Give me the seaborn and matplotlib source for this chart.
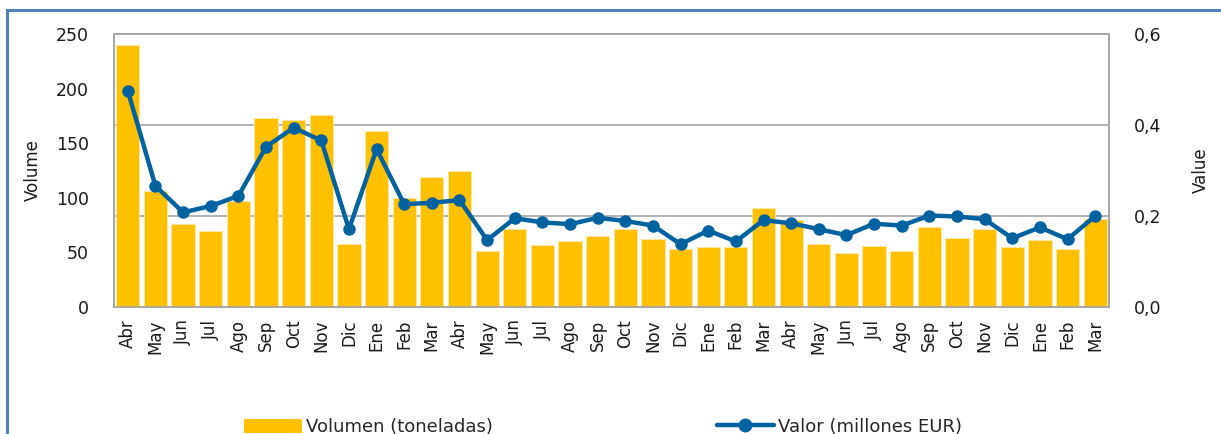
import numpy as np
import pandas as pd
import matplotlib
matplotlib.use("Agg")
import matplotlib.pyplot as plt
from matplotlib.patches import Rectangle, Patch
from matplotlib.lines import Line2D
from matplotlib.ticker import FuncFormatter
import seaborn as sns

# Monthly series, April to March over three years
months = ["Abr", "May", "Jun", "Jul", "Ago", "Sep", "Oct", "Nov", "Dic", "Ene", "Feb", "Mar",
          "Abr", "May", "Jun", "Jul", "Ago", "Sep", "Oct", "Nov", "Dic", "Ene", "Feb", "Mar",
          "Abr", "May", "Jun", "Jul", "Ago", "Sep", "Oct", "Nov", "Dic", "Ene", "Feb", "Mar"]

volume_t = [240, 106, 76, 70, 97, 173, 171, 176, 58, 161, 100, 119,
            125, 51, 71, 57, 60, 65, 71, 62, 53, 55, 55, 91,
            80, 58, 49, 56, 51, 73, 63, 71, 55, 61, 53, 81]

value_meur = [0.475, 0.266, 0.208, 0.222, 0.244, 0.352, 0.394, 0.366, 0.171, 0.347, 0.226, 0.229,
              0.235, 0.147, 0.195, 0.186, 0.182, 0.196, 0.189, 0.179, 0.138, 0.168, 0.144, 0.191,
              0.184, 0.171, 0.158, 0.183, 0.179, 0.201, 0.199, 0.193, 0.151, 0.175, 0.149, 0.200]

vol_ticks = [0, 50, 100, 150, 200, 250]
val_ticks = [0.0, 0.2, 0.4, 0.6]

legend_labels = ["Volumen (toneladas)", "Valor (millones EUR)"]

BAR_COLOR = "#FFC000"
LINE_COLOR = "#0063A0"
GRID_COLOR = "#A6A6A6"
FRAME_COLOR = "#4F81BD"

sns.set_theme(style="white")
plt.rcParams["font.family"] = ["DejaVu Sans"]

df = pd.DataFrame({"period": np.arange(len(months)), "month": months,
                   "volume": volume_t, "value": value_meur})

fig = plt.figure(figsize=(12.21, 4.34), dpi=100)
fig.patch.set_facecolor("white")

ax = fig.add_axes([114 / 1221, 1 - 307 / 434, 995 / 1221, 273 / 434])
ax.set_axisbelow(True)

sns.barplot(data=df, x="period", y="volume", ax=ax, color=BAR_COLOR,
            saturation=1, width=0.84, edgecolor="#FFE9A8", linewidth=0.6)
for bar in ax.patches:
    bar.set_zorder(3)

# Horizontal guides at the value-axis ticks, drawn behind the bars
vmax = val_ticks[-1]
for v in val_ticks[1:-1]:
    ax.axhline(v / vmax * vol_ticks[-1], color=GRID_COLOR, lw=1.2, zorder=1)

ax.set_ylim(vol_ticks[0], vol_ticks[-1])
ax.set_yticks(vol_ticks)
ax.set_xticks(df["period"])
ax.set_xticklabels(months, rotation=90, fontsize=12, color="#1a1a1a")
ax.tick_params(axis="y", labelsize=12.5, pad=18, length=0, colors="#1a1a1a")
ax.tick_params(axis="x", pad=9, length=0)
ax.set_xlabel("")
ax.set_ylabel("Volume", fontsize=12, color="#1a1a1a", labelpad=10)
ax.grid(False)
for s in ax.spines.values():
    s.set_color(GRID_COLOR)
    s.set_linewidth(1.2)

ax2 = ax.twinx()
sns.lineplot(data=df, x="period", y="value", ax=ax2, color=LINE_COLOR, lw=3.2,
             marker="o", markersize=9, markeredgewidth=0, zorder=3)
ax2.set_ylim(val_ticks[0], val_ticks[-1])
ax2.set_yticks(val_ticks)
ax2.yaxis.set_major_formatter(FuncFormatter(lambda v, p: f"{v:.1f}".replace(".", ",")))
ax2.tick_params(axis="y", labelsize=12.5, pad=18, length=0, colors="#1a1a1a")
ax2.set_ylabel("Value", fontsize=12, color="#1a1a1a", labelpad=22)
ax2.set_xlim(-0.5, len(months) - 0.5)
ax2.grid(False)
for s in ax2.spines.values():
    s.set_color(GRID_COLOR)
    s.set_linewidth(1.2)

# Legend along the bottom edge
handles = [Patch(facecolor=BAR_COLOR, edgecolor="none"),
           Line2D([0], [0], color=LINE_COLOR, lw=3.2, marker="o", markersize=9)]
fig.legend(handles, legend_labels, loc="center", bbox_to_anchor=(0.494, 0.016),
           ncol=2, frameon=False, fontsize=13, handlelength=3.2, handleheight=0.8,
           handletextpad=0.2, columnspacing=12.4)

# Outer blue frame
fig.patches.append(Rectangle((7 / 1221, -0.2), 1.2, 1.2 - 10 / 434,
                             transform=fig.transFigure, fill=False,
                             edgecolor=FRAME_COLOR, lw=2.2, clip_on=False))

fig.savefig("out.png", dpi=100)
